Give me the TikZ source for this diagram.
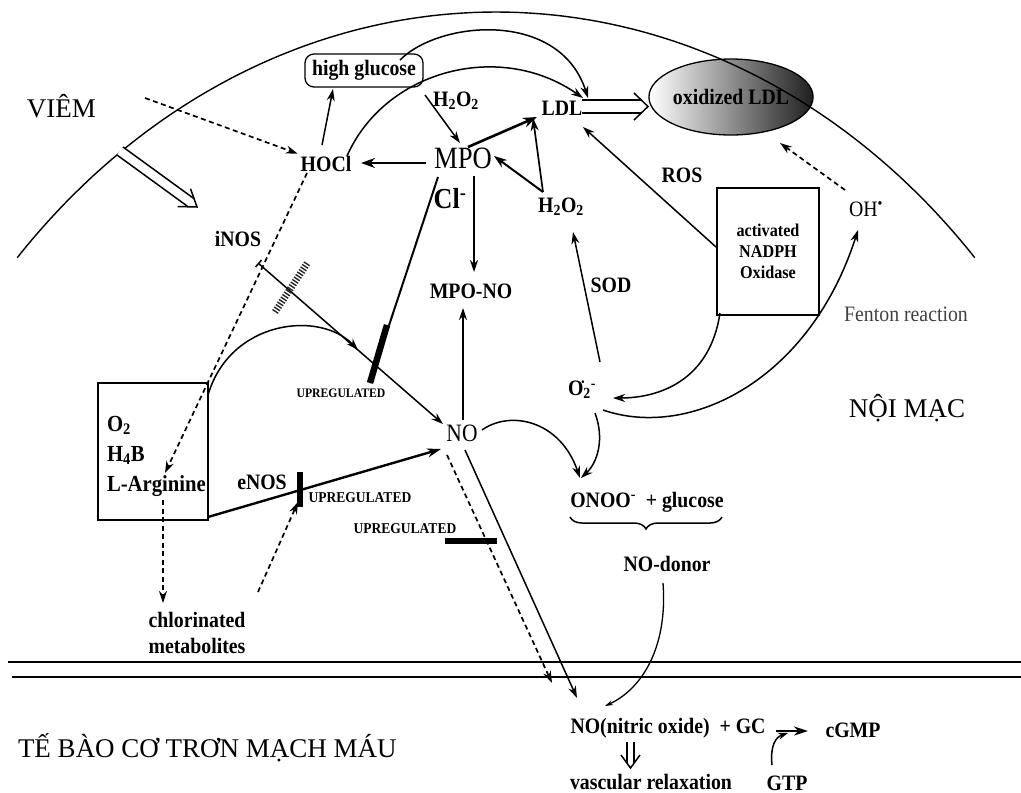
\documentclass[tikz,border=0pt]{standalone}
\usepackage{fontspec}
\setmainfont{Liberation Serif}
\newfontfamily\cnd[FakeStretch=0.9]{Liberation Serif}
\newfontfamily\cndx[FakeStretch=0.86]{Liberation Serif}
\usetikzlibrary{arrows.meta,decorations.pathreplacing,shapes.geometric}
\tikzset{
  every node/.style={inner sep=0pt, outer sep=3pt},
  lb/.style={font=\cnd\bfseries\fontsize{22}{23}\selectfont},
  lbs/.style={font=\cnd\bfseries\fontsize{18}{21}\selectfont, align=center},
  upl/.style={font=\cnd\bfseries\fontsize{15}{16}\selectfont},
  upsm/.style={font=\cnd\bfseries\fontsize{13}{14}\selectfont},
  vn/.style={font=\fontsize{27}{30}\selectfont},
  ln/.style={line width=1.5pt},
  tip/.style={-{Stealth[length=12pt,width=8pt]}},
  arr/.style={ln, tip},
  tharr/.style={line width=2.6pt, -{Stealth[length=14pt,width=10pt]}},
  dsh/.style={line width=1.7pt, dash pattern=on 5pt off 3.5pt},
  darr/.style={dsh, -{Stealth[length=12pt,width=8pt]}},
  barline/.style={line width=6.5pt},
}
\begin{document}
\begin{tikzpicture}[x=1pt,y=-1pt]
\useasboundingbox (0,0) rectangle (1021,793);

% oxidized LDL ellipse
\node[ellipse, draw, line width=1.3pt, minimum width=154pt, minimum height=76pt, outer sep=0pt,
      left color=white, middle color=white!85!black, right color=black!88, lb] (oxldl) at (731,97) {oxidized LDL};

% membrane arc
\draw[line width=1.4pt] plot[domain=136.5:43.5, samples=120, smooth] ({496+660*cos(\x)},{800-788*sin(\x)});

% text nodes
\node[vn, anchor=base west] (viem) at (24,117) {VIÊM};
\node[lb, draw, line width=1.3pt, rounded corners=9pt, minimum width=118pt, minimum height=33pt, outer sep=0pt] (hg) at (364,70.5) {high glucose};
\node[lb] (h2o2a) at (456,101) {H\textsubscript{2}O\textsubscript{2}};
\node[font=\cndx\fontsize{31}{32}\selectfont] (mpo) at (463,158) {MPO};
\node[lb] (hocl) at (326,164) {HOCl};
\node[font=\cnd\bfseries\fontsize{29}{30}\selectfont] (cl) at (450,199) {Cl\textsuperscript{-}};
\node[lb] (ldl) at (562,108) {LDL};
\node[lb] (h2o2b) at (561,207) {H\textsubscript{2}O\textsubscript{2}};
\node[lb] (ros) at (682,175) {ROS};
\node[lbs, draw, line width=1.3pt, minimum width=102pt, minimum height=127pt, outer sep=0pt] (nadph) at (768,251.5) {activated\\NADPH\\Oxidase};
\node[font=\cnd\fontsize{22}{23}\selectfont] (oh) at (866,209) {OH\textsuperscript{•}};
\node[lb] (inos) at (238,239) {iNOS};
\node[lb] (mpono) at (471,291) {MPO-NO};
\node[lb] (sod) at (611,285) {SOD};
\node[lb] (o2) at (582,390) {O\rlap{\raisebox{10pt}{\fontsize{10}{10}\selectfont\kern-2pt•}}\textsubscript{2}\textsuperscript{-}};
\node[font=\cndx\fontsize{25}{26}\selectfont] (no) at (462,433) {NO};
\node[draw, line width=1.3pt, minimum width=110pt, minimum height=137pt, outer sep=0pt] (argbox) at (153,451.5) {};
\node[align=left, anchor=north west, font=\cnd\bfseries\fontsize{23}{30}\selectfont] (argtxt) at (104,413) {O\textsubscript{2}\\H\textsubscript{4}B\\L-Arginine};
\node[align=center, font=\cnd\bfseries\fontsize{22}{26}\selectfont] (chl) at (197,633) {chlorinated\\metabolites};
\node[lb] (enos) at (262,482) {eNOS};
\node[upl] (up2) at (360,498) {UPREGULATED};
\node[upsm] (up1) at (341,393) {UPREGULATED};
\node[upl] (up3) at (405,529) {UPREGULATED};
\node[font=\cnd\fontsize{22}{23}\selectfont, text=black!75] (fenton) at (906,314) {Fenton reaction};
\node[vn] (noimac) at (907,408) {NỘI MẠC};
\node[lb] (onoo) at (647,502) {ONOO\textsuperscript{-}\ \ + glucose};
\node[lb] (nodonor) at (667,564) {NO-donor};
\node[lb] (nitric) at (668,728) {NO(nitric oxide) \ + GC};
\node[lb] (cgmp) at (853,730) {cGMP};
\node[lb] (vr) at (651,782) {vascular relaxation};
\node[lb] (gtp) at (787,783) {GTP};
\node[vn, anchor=base west] (tebao) at (15,757) {TẾ BÀO CƠ TRƠN MẠCH MÁU};

% named end points
\coordinate (vs) at (145,98);
\coordinate (hoclTop) at (322,145);
\coordinate (hgBot) at (333,89);
\coordinate (hgSE) at (425,95);
\coordinate (mpoTop) at (460,143);
\coordinate (mpoL) at (426,163);
\coordinate (hoclR) at (361,163);
\coordinate (mpoR) at (468,147);
\coordinate (ldlBL) at (537,117);
\coordinate (h2o2Top) at (543,192);
\coordinate (mpoRR) at (494,156);
\coordinate (ldlB) at (533,118);
\coordinate (hoclTR) at (347,156);
\coordinate (ldlT1) at (583,98);
\coordinate (hgT) at (400,60);
\coordinate (ldlT2) at (588,98);
\coordinate (nadphL) at (716,247);
\coordinate (ldlBR) at (583,127);
\coordinate (ohL) at (845,190);
\coordinate (oxB) at (780,143);
\coordinate (mpoB) at (474,176);
\coordinate (mponoT) at (474,272);
\coordinate (clS) at (438,177);
\coordinate (clE) at (370,383);
\coordinate (clBar) at (387,325);
\coordinate (inosS) at (258,263);
\coordinate (noTL) at (443,424);
\coordinate (argTR) at (208,395);
\coordinate (upArc) at (358,350);
\coordinate (argBR) at (208,517);
\coordinate (noL) at (441,449);
\coordinate (enosBarT) at (300,472);
\coordinate (enosBarB) at (300,507);
\coordinate (chlTop) at (258,592);
\coordinate (enosBarTip) at (298,502);
\coordinate (hoclB) at (307,173);
\coordinate (argIn) at (165,473);
\coordinate (argInB) at (163,500);
\coordinate (chlT) at (163,603);
\coordinate (noT) at (463,420);
\coordinate (mponoB) at (463,308);
\coordinate (noR) at (482,430);
\coordinate (onooT) at (580,478);
\coordinate (o2B) at (595,413);
\coordinate (onooT2) at (581,478);
\coordinate (o2T) at (600,362);
\coordinate (h2o2B) at (573,232);
\coordinate (nadphBL) at (720,313);
\coordinate (o2R) at (613,398);
\coordinate (o2RB) at (603,410);
\coordinate (ohB) at (858,230);
\coordinate (noBR) at (465,450);
\coordinate (nitT) at (577,698);
\coordinate (noB) at (447,455);
\coordinate (nitT2) at (552,683);
\coordinate (donB) at (663,583);
\coordinate (nitR) at (605,706);
\coordinate (gcR) at (776,731);
\coordinate (cgL) at (808,731);
\coordinate (gtpT) at (772,765);
\coordinate (gcA) at (788,733);

% VIEM dashed arrow and hollow arrow
\draw[darr] (vs) -- (hocl);
\fill[white] (117.06,155.05) -- (188.16,206.75) -- (194.04,198.65) -- (122.94,146.95) -- cycle;
\draw[ln] (117.06,155.05) -- (188.16,206.75);
\draw[ln] (122.94,146.95) -- (194.04,198.65);
\draw[ln] (177.6,206.5) -- (197,207) -- (190.5,188.7);

% top connectors
\draw[arr] (hoclTop) -- (hgBot);
\draw[arr] (hgSE) -- (mpoTop);
\draw[tharr] (mpoL) -- (hoclR);
\draw[tharr] (mpoR) -- (ldlBL);
\draw[line width=2pt, -{Stealth[length=13pt,width=9pt]}] (h2o2Top) -- (mpoRR);
\draw[line width=1.7pt, -{Stealth[length=13pt,width=8pt]}] (h2o2Top) -- (ldlB);
\draw[arr] (hoclTR) .. controls (385,70) and (500,40) .. (ldlT1);
\draw[arr] (hgT) .. controls (440,20) and (560,10) .. (ldlT2);

% LDL hollow arrow
\draw[ln] (582,100) -- (641,100);
\draw[ln] (582,113) -- (641,113);
\draw[ln] (634,93) -- (648,106.5) -- (634,120);

\draw[arr] (nadphL) -- (ldlBR);
\draw[darr] (ohL) -- (oxB);

% MPO area
\draw[arr] (mpoB) -- (mponoT);
\draw[line width=2pt] (clS) -- (clE);
\draw[barline] (clBar) -- (clE);

% iNOS
\draw[ln, {Bar[width=9pt]}-{Stealth[length=12pt,width=8pt]}] (inosS) -- (noTL);
\draw[line width=7pt, black!85, dash pattern=on 1.4pt off 1.6pt] (275,312) -- (308,262);

% arginine arc
\draw[arr] (argTR) .. controls (230,320) and (320,310) .. (upArc);

% eNOS
\draw[line width=2.4pt, -{Stealth[length=14pt,width=9pt]}] (argBR) -- (noL);
\draw[line width=5.5pt] (enosBarT) -- (enosBarB);
\draw[darr] (chlTop) -- (enosBarTip);
\draw[darr] (hoclB) -- (argIn);
\draw[darr] (argInB) -- (chlT);

% NO region
\draw[arr] (noT) -- (mponoB);
\draw[arr] (noR) .. controls (510,410) and (560,420) .. (onooT);
\draw[arr] (o2B) .. controls (605,440) and (597,463) .. (onooT2);
\draw[arr] (o2T) -- (h2o2B);
\draw[arr] (nadphBL) .. controls (710,380) and (660,398) .. (o2R);
\draw[arr] (o2RB) .. controls (690,440) and (810,380) .. (ohB);

\draw[arr] (noBR) -- (nitT);
\draw[darr] (noB) -- (nitT2);
\draw[barline] (445,541) -- (497,541);

% brace
\draw[ln, decorate, decoration={brace, amplitude=12pt, mirror}] (570,517) -- (722,517);

% NO-donor curve
\draw[line width=1.3pt, -{Stealth[length=8pt,width=5pt]}] (donB) .. controls (668,650) and (640,690) .. (nitR);

% membrane lines
\draw[line width=2pt] (8,662) -- (1021,662);
\draw[line width=2pt] (12,677) -- (1021,677);

% bottom
\draw[line width=2.2pt, -{Stealth[length=14pt,width=9pt]}] (gcR) -- (cgL);
\draw[ln, -{Stealth[length=10pt,width=7pt]}] (gtpT) .. controls (770,745) and (776,737) .. (gcA);

% hollow down arrow
\draw[ln] (627,742) -- (627,763);
\draw[ln] (634,742) -- (634,763);
\draw[ln] (621,755) -- (630.5,768) -- (640,755);
\end{tikzpicture}
\end{document}
